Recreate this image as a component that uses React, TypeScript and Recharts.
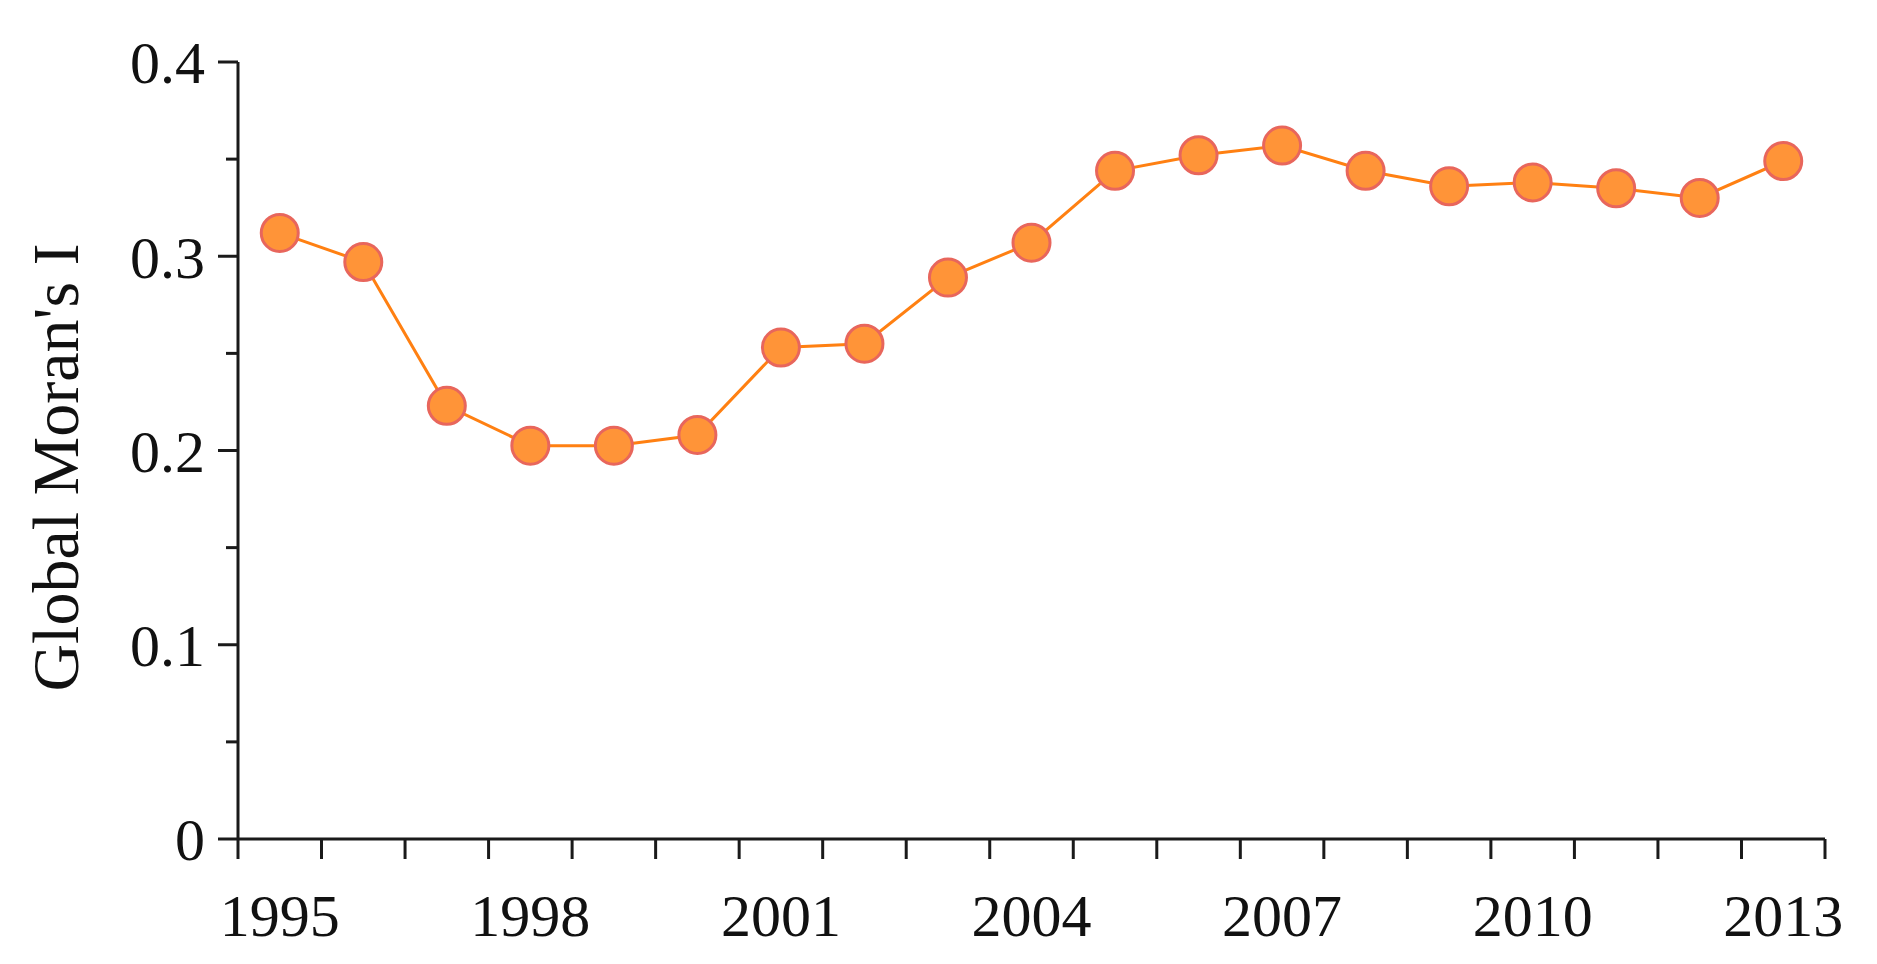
import { LineChart, Line, XAxis, YAxis } from "recharts";

const years = [
  1995, 1996, 1997, 1998, 1999, 2000, 2001, 2002, 2003, 2004, 2005, 2006,
  2007, 2008, 2009, 2010, 2011, 2012, 2013,
];
const moranI = [
  0.312, 0.297, 0.223, 0.2025, 0.2025, 0.208, 0.253, 0.255, 0.289, 0.307,
  0.344, 0.352, 0.357, 0.344, 0.336, 0.338, 0.335, 0.33, 0.349,
];
const xLabelTicks = [1995, 1998, 2001, 2004, 2007, 2010, 2013];
const yTicks = [0, 0.05, 0.1, 0.15, 0.2, 0.25, 0.3, 0.35, 0.4];

const data = years.map((year, i) => ({ year, value: moranI[i] }));
const xBoundaries = [...years.map((y) => y - 0.5), years[years.length - 1] + 0.5];
const xDomain = [xBoundaries[0], xBoundaries[xBoundaries.length - 1]];

const AXIS = "#1a1a1a";
const FONT = "'Liberation Serif', 'Times New Roman', serif";

function YTick({ x, y, payload }: any) {
  const v = payload.value;
  const major = Math.round(v * 100) % 10 === 0;
  const axisX = x + 33;
  return (
    <g>
      <line
        x1={axisX - (major ? 20 : 12)}
        x2={axisX}
        y1={y}
        y2={y}
        stroke={AXIS}
        strokeWidth={3}
      />
      {major && (
        <text
          x={x}
          y={y}
          dy="0.355em"
          textAnchor="end"
          fontFamily={FONT}
          fontSize={60}
          fill="#111"
        >
          {String(v)}
        </text>
      )}
    </g>
  );
}

// boundary ticks between years: draw only the tick line, no label
function BoundaryTick({ x, y }: any) {
  return <line x1={x} x2={x} y1={y - 20} y2={y} stroke={AXIS} strokeWidth={3} />;
}

function YLabel({ viewBox }: any) {
  const cx = viewBox.x + 47;
  const cy = viewBox.y + viewBox.height / 2 + 17;
  return (
    <text
      x={cx}
      y={cy}
      transform={`rotate(-90, ${cx}, ${cy})`}
      textAnchor="middle"
      dominantBaseline="central"
      fontFamily={FONT}
      fontSize={66}
      fill="#111"
    >
      Global Moran's I
    </text>
  );
}

export default function App() {
  return (
    <div style={{ width: 1860, height: 948, background: "#fff", fontFamily: FONT }}>
      <LineChart
        width={1860}
        height={948}
        data={data}
        margin={{ top: 54, right: 43, bottom: 0, left: 0 }}
      >
        <XAxis
          xAxisId="b"
          dataKey="year"
          type="number"
          domain={xDomain}
          ticks={xLabelTicks}
          interval={0}
          axisLine={false}
          tickLine={false}
          tickSize={20}
          tickMargin={33}
          height={116}
          tick={{ fontSize: 60, fill: "#111", fontFamily: FONT }}
        />
        <XAxis
          xAxisId="a"
          dataKey="year"
          type="number"
          domain={xDomain}
          ticks={xBoundaries}
          interval={0}
          tick={<BoundaryTick />}
          tickLine={false}
          tickSize={20}
          tickMargin={0}
          height={1}
          axisLine={{ stroke: AXIS, strokeWidth: 3 }}
        />
        <YAxis
          domain={[0, 0.4]}
          ticks={yTicks}
          interval={0}
          width={230}
          tickSize={20}
          tickMargin={13}
          tickLine={false}
          axisLine={{ stroke: AXIS, strokeWidth: 3 }}
          tick={<YTick />}
          label={<YLabel />}
        />
        <Line
          xAxisId="b"
          type="linear"
          dataKey="value"
          stroke="#FF8012"
          strokeWidth={3}
          dot={{ r: 18.5, fill: "#FF9438", stroke: "#E8665C", strokeWidth: 3 }}
          activeDot={false}
          isAnimationActive={false}
        />
      </LineChart>
    </div>
  );
}
